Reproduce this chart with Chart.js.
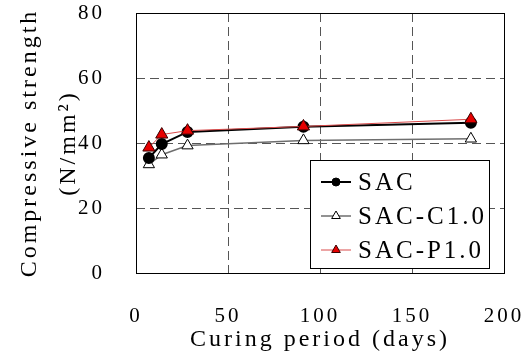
<!DOCTYPE html>
<html>
<head>
<meta charset="utf-8">
<script src="https://cdn.jsdelivr.net/npm/chart.js@4/dist/chart.umd.min.js"></script>
<style>
  html, body { margin: 0; padding: 0; background: #fff; }
  #wrap { width: 531px; height: 361px; }
</style>
</head>
<body>
<div id="wrap"><canvas id="strengthChart"></canvas></div>
<script>
// Data
const days = [7, 14, 28, 91, 182];
const sacValues = [35.4, 39.7, 43.4, 45.0, 46.2];
const sacC10Values = [33.4, 36.4, 39.2, 40.8, 41.3];
const sacP10Values = [38.6, 42.6, 43.8, 45.1, 47.3];
const seriesNames = ['SAC', 'SAC-C1.0', 'SAC-P1.0'];
const xTicks = [0, 50, 100, 150, 200];
const yTicks = [0, 20, 40, 60, 80];

const FONT = 'Liberation Serif';

function toPoints(values) {
    return days.map((d, i) => ({ x: d, y: values[i] }));
}

// Letter spacing for all text, like the original figure
const spacingPlugin = {
    id: 'spacing',
    beforeDraw(chart) {
        chart.ctx.letterSpacing = '3px';
    }
};

// Solid frame round the plot area
const framePlugin = {
    id: 'frame',
    afterDatasetsDraw(chart) {
        const { ctx, chartArea: a } = chart;
        ctx.save();
        ctx.strokeStyle = '#000';
        ctx.lineWidth = 1;
        ctx.setLineDash([]);
        ctx.strokeRect(Math.round(a.left) + 0.5, Math.round(a.top) + 0.5,
            Math.round(a.right - a.left), Math.round(a.bottom - a.top));
        ctx.restore();
    }
};

// Boxed legend in lower right of the plot
const legendBoxPlugin = {
    id: 'legendBox',
    afterDraw(chart) {
        const ctx = chart.ctx;
        const x0 = 310, y0 = 160, w = 179, h = 108;
        ctx.save();
        ctx.fillStyle = '#fff';
        ctx.fillRect(x0, y0, w, h);
        ctx.strokeStyle = '#000';
        ctx.lineWidth = 1;
        ctx.strokeRect(x0 + 0.5, y0 + 0.5, w, h);

        const rows = [182, 216, 250];
        chart.data.datasets.forEach((ds, i) => {
            const y = rows[i];
            ctx.strokeStyle = ds.borderColor;
            ctx.lineWidth = ds.borderWidth;
            ctx.beginPath();
            ctx.moveTo(321, y);
            ctx.lineTo(351, y);
            ctx.stroke();
            ctx.fillStyle = ds.pointBackgroundColor;
            ctx.strokeStyle = ds.pointBorderColor;
            ctx.lineWidth = 1;
            Chart.helpers.drawPoint(ctx, {
                pointStyle: ds.pointStyle,
                radius: ds.pointStyle === 'circle' ? 4 : 5,
                rotation: 0,
                borderWidth: 1
            }, 336, y);
            ctx.fillStyle = '#000';
            ctx.letterSpacing = '3px';
            ctx.font = '25px "' + FONT + '"';
            ctx.textBaseline = 'middle';
            ctx.textAlign = 'left';
            ctx.fillText(ds.label, 358, y + 1);
        });
        ctx.restore();
    }
};

const chart = new Chart(document.getElementById('strengthChart'), {
    type: 'line',
    data: {
        datasets: [
            {
                label: seriesNames[0],
                data: toPoints(sacValues),
                borderColor: '#000',
                borderWidth: 2,
                pointStyle: 'circle',
                pointRadius: 5,
                pointBackgroundColor: '#000',
                pointBorderColor: '#000',
                order: 1
            },
            {
                label: seriesNames[1],
                data: toPoints(sacC10Values),
                borderColor: '#6e6e6e',
                borderWidth: 1.5,
                pointStyle: 'triangle',
                pointRadius: 6.5,
                pointBackgroundColor: '#fff',
                pointBorderColor: '#000',
                pointBorderWidth: 1,
                order: 2
            },
            {
                label: seriesNames[2],
                data: toPoints(sacP10Values),
                borderColor: '#d94a4a',
                borderWidth: 1,
                pointStyle: 'triangle',
                pointRadius: 7,
                pointBackgroundColor: '#e60000',
                pointBorderColor: '#3a0000',
                pointBorderWidth: 1,
                order: 0
            }
        ]
    },
    options: {
        responsive: true,
        maintainAspectRatio: false,
        animation: false,
        layout: { padding: { top: 13, right: 27, left: 0, bottom: 0 } },
        plugins: {
            legend: { display: false },
            tooltip: { enabled: false }
        },
        scales: {
            x: {
                type: 'linear',
                min: 0,
                max: 200,
                afterBuildTicks(scale) {
                    scale.ticks = xTicks.map(v => ({ value: v }));
                },
                afterFit(scale) {
                    scale.height = 88;
                    scale.paddingLeft = 0;
                    scale.paddingRight = 0;
                },
                grid: {
                    color: '#555',
                    lineWidth: 1,
                    drawTicks: false
                },
                border: { display: false, dash: [9, 5] },
                ticks: {
                    color: '#000',
                    padding: 31,
                    maxRotation: 0,
                    font: { family: FONT, size: 21 }
                },
                title: {
                    display: true,
                    text: 'Curing period (days)',
                    color: '#000',
                    padding: { top: 0, bottom: 7 },
                    font: { family: FONT, size: 24, lineHeight: 1.2 }
                }
            },
            y: {
                min: 0,
                max: 80,
                afterBuildTicks(scale) {
                    scale.ticks = yTicks.map(v => ({ value: v }));
                },
                afterFit(scale) {
                    scale.width = 136;
                    scale.paddingTop = 0;
                    scale.paddingBottom = 0;
                },
                grid: {
                    color: '#555',
                    lineWidth: 1,
                    drawTicks: false
                },
                border: { display: false, dash: [9, 5] },
                ticks: {
                    color: '#000',
                    padding: 31,
                    font: { family: FONT, size: 21 }
                },
                title: {
                    display: true,
                    text: ['Compressive strength', '(N/mm\u00b2)'],
                    color: '#000',
                    padding: { top: 11, bottom: 0 },
                    font: { family: FONT, size: 24, lineHeight: 1.6 }
                }
            }
        }
    },
    plugins: [spacingPlugin, framePlugin, legendBoxPlugin]
});
</script>
</body>
</html>
